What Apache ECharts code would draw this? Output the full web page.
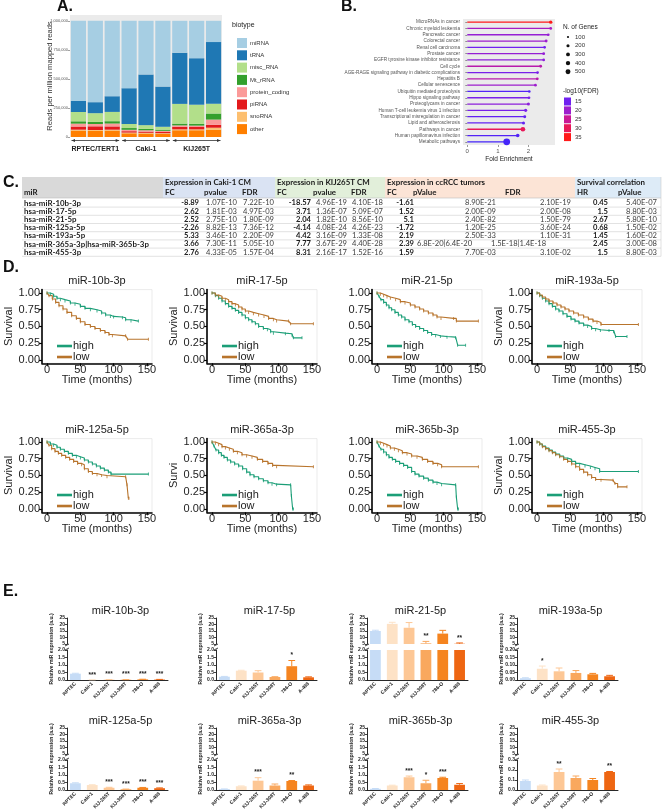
<!DOCTYPE html>
<html><head><meta charset="utf-8"><title>Figure</title>
<script src="https://cdn.jsdelivr.net/npm/echarts@6.0.0/dist/echarts.min.js"></script>
<style>html,body{margin:0;padding:0;background:#fff}#main{width:669px;height:812px}</style>
</head><body><div id="main"></div>
<script>
// ================= DATA =================
// ---- Panel A: small RNA biotypes (reads per million mapped reads)
const aSamples = ['RPTEC/TERT1 #1','RPTEC/TERT1 #2','RPTEC/TERT1 #3','Caki-1 #1','Caki-1 #2','Caki-1 #3','KIJ265T #1','KIJ265T #2','KIJ265T #3'];
const aGroups = ['RPTEC/TERT1','Caki-1','KIJ265T'];
const biotypes = ['miRNA','tRNA','misc_RNA','Mt_rRNA','protein_coding','piRNA','snoRNA','other'];
const rpm_miRNA          = [690000,700000,649000,580000,462000,566000,275000,322000,183000];
const rpm_tRNA           = [95000,95000,135000,308000,436000,346000,440000,400000,530000];
const rpm_misc_RNA       = [80000,75000,80000,35000,32000,25000,170000,165000,85000];
const rpm_Mt_rRNA        = [20000,18000,20000,15000,12000,10000,15000,15000,52000];
const rpm_protein_coding = [25000,20000,25000,12000,12000,10000,12000,12000,45000];
const rpm_piRNA          = [27000,32000,28000,12000,10000,10000,22000,20000,25000];
const rpm_snoRNA         = [8000,8000,8000,6000,6000,5000,8000,8000,18000];
const rpm_other          = [55000,52000,55000,32000,30000,28000,58000,58000,62000];
const aTicks = [0,250000,500000,750000,1000000];

// ---- Panel B: KEGG enrichment
const keggTerms = ['MicroRNAs in cancer','Chronic myeloid leukemia','Pancreatic cancer','Colorectal cancer','Renal cell carcinoma','Prostate cancer','EGFR tyrosine kinase inhibitor resistance','Cell cycle','AGE-RAGE signaling pathway in diabetic complications','Hepatitis B','Cellular senescence','Ubiquitin mediated proteolysis','Hippo signaling pathway','Proteoglycans in cancer','Human T-cell leukemia virus 1 infection','Transcriptional misregulation in cancer','Lipid and atherosclerosis','Pathways in cancer','Human papillomavirus infection','Metabolic pathways'];
const foldEnrichment = [2.73,2.73,2.65,2.58,2.53,2.50,2.50,2.40,2.30,2.29,2.23,2.03,2.02,2.00,1.91,1.88,1.84,1.82,1.65,1.29];
const nGenes = [240,160,150,170,150,160,150,170,150,170,160,140,150,190,200,180,190,450,270,950];
const negLog10FDR = [35,21,19,20,15,19,18,23,16,23,20,13,16,18,16,14,14,30,13,12];
const geneLegend = [100,200,300,400,500];
const fdrLegend = [15,20,25,30,35];

// ---- Panel C: table
const tGroups = ['Expression in Caki-1 CM','Expression in KIJ265T CM','Expression in ccRCC tumors','Survival correlation'];
const tSubHeads = ['miR','FC','pvalue','FDR','FC','pvalue','FDR','FC','pValue','FDR','HR','pValue'];
const tMiR   = ['hsa-miR-10b-3p','hsa-miR-17-5p','hsa-miR-21-5p','hsa-miR-125a-5p','hsa-miR-193a-5p','hsa-miR-365a-3p|hsa-miR-365b-3p','hsa-miR-455-3p'];
const cakiFC  = ['-8.89','2.62','2.52','-2.26','5.33','3.66','2.76'];
const cakiP   = ['1.07E-10','1.81E-03','2.75E-10','8.82E-13','3.46E-10','7.30E-11','4.33E-05'];
const cakiFDR = ['7.22E-10','4.97E-03','1.80E-09','7.36E-12','2.20E-09','5.05E-10','1.57E-04'];
const kijFC   = ['-18.57','3.71','2.04','-4.14','4.42','7.77','8.31'];
const kijP    = ['4.96E-19','1.36E-07','1.82E-10','4.08E-24','3.16E-09','3.67E-29','2.16E-17'];
const kijFDR  = ['4.10E-18','5.09E-07','8.56E-10','4.26E-23','1.33E-08','4.40E-28','1.52E-16'];
const tumFC   = ['-1.61','1.52','5.1','-1.72','2.19','2.39','1.59'];
const tumP    = ['8.90E-21','2.00E-09','2.40E-82','1.20E-25','2.50E-33','6.8E-20|6.4E-20','7.70E-03'];
const tumFDR  = ['2.10E-19','2.00E-08','1.50E-79','3.60E-24','1.10E-31','1.5E-18|1.4E-18','3.10E-02'];
const survHR  = ['0.45','1.5','2.67','0.68','1.45','2.45','1.5'];
const survP   = ['5.40E-07','8.80E-03','5.80E-10','1.50E-02','1.60E-02','3.00E-08','8.80E-03'];

// ---- Panel D: Kaplan-Meier curves [months, survival]
const kmTitles = ['miR-10b-3p','miR-17-5p','miR-21-5p','miR-193a-5p','miR-125a-5p','miR-365a-3p','miR-365b-3p','miR-455-3p'];
const kmYNames = ['Survival','Survival','','Survival','Survival','Survi','','Survival'];
const kmXTicks = [0,50,100,150];
const kmYTicks = [0,0.25,0.5,0.75,1];
const km10bHigh = [[0,1],[5,0.98],[10,0.95],[15,0.92],[20,0.9],[27,0.88],[35,0.85],[42,0.83],[50,0.8],[57,0.77],[65,0.75],[75,0.73],[82,0.7],[88,0.67],[95,0.65],[100,0.64],[113,0.63],[118,0.6],[126,0.58],[137,0.58]];
const km10bLow  = [[0,1],[3,0.96],[8,0.91],[13,0.86],[18,0.81],[24,0.76],[30,0.71],[37,0.66],[44,0.62],[50,0.57],[57,0.53],[65,0.5],[72,0.47],[80,0.44],[87,0.41],[93,0.38],[98,0.36],[118,0.36],[121,0.31],[152,0.31]];
const km17High  = [[0,1],[5,0.96],[10,0.92],[15,0.88],[20,0.84],[25,0.8],[30,0.77],[35,0.74],[40,0.71],[45,0.67],[50,0.63],[55,0.6],[60,0.57],[65,0.54],[70,0.5],[77,0.47],[83,0.45],[88,0.42],[92,0.4],[110,0.39],[120,0.37],[122,0.33],[135,0.33]];
const km17Low   = [[0,1],[5,0.97],[10,0.95],[15,0.92],[20,0.9],[25,0.87],[30,0.84],[35,0.82],[40,0.79],[45,0.76],[50,0.73],[55,0.71],[62,0.69],[70,0.67],[78,0.65],[85,0.62],[92,0.6],[97,0.58],[115,0.58],[118,0.54],[152,0.54]];
const km21High  = [[0,1],[3,0.95],[6,0.9],[10,0.86],[14,0.82],[18,0.78],[22,0.75],[27,0.71],[32,0.67],[37,0.64],[42,0.6],[48,0.57],[53,0.53],[58,0.5],[64,0.47],[70,0.44],[76,0.41],[82,0.38],[88,0.36],[95,0.35],[105,0.34],[118,0.33],[121,0.22],[133,0.22]];
const km21Low   = [[0,1],[5,0.98],[10,0.96],[15,0.94],[20,0.92],[28,0.9],[35,0.87],[42,0.85],[50,0.82],[57,0.79],[64,0.76],[70,0.73],[77,0.7],[84,0.67],[90,0.64],[96,0.62],[115,0.62],[119,0.58],[152,0.58]];
const km193aHigh= [[0,1],[4,0.96],[8,0.92],[13,0.88],[18,0.84],[23,0.8],[28,0.76],[33,0.73],[39,0.69],[45,0.65],[51,0.61],[57,0.58],[63,0.55],[70,0.52],[76,0.5],[82,0.47],[88,0.45],[95,0.44],[108,0.44],[115,0.42],[118,0.35],[135,0.35]];
const km193aLow = [[0,1],[4,0.97],[8,0.94],[13,0.91],[18,0.88],[24,0.85],[30,0.82],[36,0.79],[42,0.76],[48,0.73],[55,0.7],[62,0.67],[70,0.64],[77,0.61],[84,0.58],[90,0.56],[96,0.53],[152,0.53]];
const km125aHigh= [[0,1],[5,0.97],[10,0.95],[15,0.92],[20,0.89],[26,0.86],[32,0.83],[38,0.8],[44,0.78],[50,0.76],[56,0.73],[62,0.7],[68,0.67],[74,0.64],[80,0.61],[86,0.58],[92,0.55],[96,0.52],[152,0.52]];
const km125aLow = [[0,1],[3,0.95],[7,0.9],[12,0.86],[17,0.83],[22,0.8],[28,0.77],[34,0.74],[40,0.71],[46,0.68],[52,0.66],[56,0.6],[62,0.56],[68,0.53],[75,0.51],[82,0.5],[90,0.48],[118,0.48],[120,0.36],[122,0.16],[123,0.16]];
const km365aHigh= [[0,1],[3,0.94],[6,0.88],[10,0.84],[14,0.8],[18,0.77],[23,0.73],[28,0.7],[34,0.67],[40,0.64],[46,0.6],[52,0.55],[57,0.51],[63,0.48],[70,0.45],[77,0.42],[84,0.39],[90,0.37],[97,0.36],[118,0.36],[119,0.2],[121,0],[122,0]];
const km365aLow = [[0,1],[5,0.98],[10,0.96],[15,0.93],[20,0.91],[26,0.89],[32,0.86],[38,0.84],[45,0.81],[52,0.79],[60,0.77],[68,0.74],[76,0.71],[84,0.68],[91,0.65],[97,0.63],[152,0.63]];
const km365bHigh= [[0,1],[3,0.94],[6,0.89],[10,0.85],[14,0.81],[18,0.77],[23,0.74],[28,0.71],[34,0.68],[40,0.65],[46,0.62],[52,0.56],[57,0.52],[63,0.49],[70,0.46],[77,0.43],[84,0.4],[90,0.38],[97,0.36],[118,0.36],[119,0.18],[121,0],[122,0]];
const km365bLow = [[0,1],[5,0.98],[10,0.96],[15,0.94],[20,0.91],[26,0.89],[32,0.87],[38,0.84],[45,0.82],[52,0.79],[60,0.77],[68,0.74],[76,0.71],[84,0.68],[91,0.66],[97,0.63],[152,0.63]];
const km455High = [[0,1],[4,0.97],[8,0.94],[13,0.91],[18,0.88],[23,0.85],[28,0.82],[34,0.79],[40,0.76],[46,0.74],[52,0.71],[58,0.68],[64,0.66],[72,0.64],[80,0.62],[87,0.6],[94,0.56],[152,0.56]];
const km455Low  = [[0,1],[4,0.97],[8,0.93],[13,0.9],[18,0.87],[23,0.84],[28,0.81],[34,0.78],[40,0.74],[46,0.71],[52,0.67],[58,0.63],[64,0.59],[70,0.55],[76,0.51],[82,0.47],[88,0.44],[96,0.43],[114,0.43],[117,0.38],[121,0.33],[135,0.33]];
const kmHighSets = [km10bHigh,km17High,km21High,km193aHigh,km125aHigh,km365aHigh,km365bHigh,km455High];
const kmLowSets  = [km10bLow,km17Low,km21Low,km193aLow,km125aLow,km365aLow,km365bLow,km455Low];

// ---- Panel E: qPCR relative expression (mean, error, significance)
const eCells  = ['RPTEC','Caki-1','KIJ-265T','KIJ-308T','786-O','A-498'];
const eTitles = ['miR-10b-3p','miR-17-5p','miR-21-5p','miR-193a-5p','miR-125a-5p','miR-365a-3p','miR-365b-3p','miR-455-3p'];
const e10bMean = [0.42,0.01,0.02,0.02,0.04,0.03],   e10bErr = [0.03,0.005,0.005,0.005,0.01,0.01], e10bSig = ['','***','***','***','***','***'];
const e17Mean  = [0.22,0.62,0.5,0.2,0.92,0.18],     e17Err  = [0.02,0.03,0.12,0.02,0.38,0.03],     e17Sig  = ['','','','','*',''];
const e21Mean  = [15,20.5,17.5,5.5,13,5.2],         e21Err  = [0.6,1.2,4,1.5,2.5,0.6],             e21Sig  = ['','','','**','','**'];
const e193aMean= [0.012,0.075,0.058,0.047,0.038,0.025], e193aErr=[0.003,0.018,0.022,0.016,0.006,0.006], e193aSig=['','*','','','',''];
const e125aMean= [0.45,0.33,0.15,0.05,0.15,0.12],   e125aErr= [0.03,0.02,0.03,0.01,0.02,0.02],     e125aSig= ['','','***','***','***','***'];
const e365aMean= [0.06,0.25,0.62,0.3,0.6,0.3],      e365aErr= [0.01,0.02,0.2,0.1,0.03,0.04],       e365aSig= ['','','***','','**',''];
const e365bMean= [0.08,0.3,0.85,0.45,0.8,0.35],     e365bErr= [0.02,0.02,0.08,0.2,0.05,0.08],      e365bSig= ['','','***','*','***',''];
const e455Mean = [0.09,0.045,0.18,0.12,0.1,0.18],   e455Err = [0.01,0.005,0.03,0.02,0.015,0.005],  e455Sig = ['','','**','','','**'];
const eMeans = [e10bMean,e17Mean,e21Mean,e193aMean,e125aMean,e365aMean,e365bMean,e455Mean];
const eErrs  = [e10bErr,e17Err,e21Err,e193aErr,e125aErr,e365aErr,e365bErr,e455Err];
const eSigs  = [e10bSig,e17Sig,e21Sig,e193aSig,e125aSig,e365aSig,e365bSig,e455Sig];
const eLowMax  = [2,2,2,0.2,2,2,2,0.3];
const eLowStep = [0.5,0.5,0.5,0.05,0.5,0.5,0.5,0.1];
const eLowDig  = [1,1,1,2,1,1,1,1];
const eUpMin = 5, eUpMax = 25, eUpStep = 5;

// ================= BUILD =================
const FONT = '"Liberation Sans", Arial, Helvetica, sans-serif';
const TFONT = 'Lato, "Open Sans", "Liberation Sans", sans-serif';
const grid = [], xAxis = [], yAxis = [], series = [], legend = [], gfx = [];
function G(o){ grid.push(Object.assign({outerBoundsMode:'none', containLabel:false, show:false}, o)); return grid.length-1; }
function txt(x,y,t,o){ gfx.push({type:'text', x:x, y:y, silent:true, style:Object.assign({text:t, fontFamily:FONT, fontSize:7, fill:'#222', align:'left', verticalAlign:'middle'}, o||{})}); }
function rect(x,y,w,h,fill){ gfx.push({type:'rect', silent:true, shape:{x:x,y:y,width:w,height:h}, style:{fill:fill}}); }
function seg(x1,y1,x2,y2,stroke,lw){ gfx.push({type:'line', silent:true, shape:{x1:x1,y1:y1,x2:x2,y2:y2}, style:{stroke:stroke, lineWidth:lw||0.6}}); }

// Panel letters
txt(57,7,'A.',{fontSize:16,fontWeight:'bold',fill:'#111'});
txt(341,7,'B.',{fontSize:16,fontWeight:'bold',fill:'#111'});
txt(3,183,'C.',{fontSize:16,fontWeight:'bold',fill:'#111'});
txt(3,268,'D.',{fontSize:16,fontWeight:'bold',fill:'#111'});
txt(3,592,'E.',{fontSize:16,fontWeight:'bold',fill:'#111'});

// ---------- Panel A ----------
const aColors = {miRNA:'#a6cee3', tRNA:'#1f78b4', misc_RNA:'#b2df8a', Mt_rRNA:'#33a02c', protein_coding:'#fb9a99', piRNA:'#e31a1c', snoRNA:'#fdbf6f', other:'#ff7f00'};
const aData = {miRNA:rpm_miRNA, tRNA:rpm_tRNA, misc_RNA:rpm_misc_RNA, Mt_rRNA:rpm_Mt_rRNA, protein_coding:rpm_protein_coding, piRNA:rpm_piRNA, snoRNA:rpm_snoRNA, other:rpm_other};
const gA = G({left:70, top:15, width:152, height:122, show:true, backgroundColor:'#ebebeb', borderWidth:0});
const xA = xAxis.length;
xAxis.push({gridIndex:gA, type:'category', data:aSamples, axisLine:{show:false}, axisTick:{show:false}, axisLabel:{show:false}, splitLine:{show:false}});
const yA = yAxis.length;
yAxis.push({gridIndex:gA, type:'value', min:0, max:1050000, axisLine:{show:false},
  axisTick:{show:true, customValues:aTicks, length:2, lineStyle:{color:'#444', width:0.5}},
  axisLabel:{customValues:aTicks, fontSize:4, color:'#555', margin:2, fontFamily:FONT},
  splitLine:{show:false}, name:'Reads per million mapped reads', nameLocation:'middle', nameGap:16, nameMoveOverlap:false,
  nameTextStyle:{fontSize:7.6, color:'#333', fontFamily:FONT}});
['other','snoRNA','piRNA','protein_coding','Mt_rRNA','misc_RNA','tRNA','miRNA'].forEach(function(b){
  series.push({type:'bar', name:b, xAxisIndex:xA, yAxisIndex:yA, stack:'bio', data:aData[b], barCategoryGap:'10%', itemStyle:{color:aColors[b]}, silent:true});
});
legend.push({left:232, top:33, orient:'vertical', data:biotypes, icon:'rect', itemWidth:10, itemHeight:10, itemGap:2.3, selectedMode:false,
  textStyle:{fontSize:6, color:'#333', fontFamily:FONT, padding:[0,0,0,-2]}});
txt(232,25,'biotype',{fontSize:7,fill:'#222'});

// ---------- Panel B ----------
const fdrStops = [[10,[40,40,255]],[15,[112,32,240]],[20,[158,30,205]],[25,[202,24,150]],[30,[232,24,88]],[35,[255,26,26]]];
function fdrColor(v){
  for (let i=0;i<fdrStops.length-1;i++){
    const a=fdrStops[i], b=fdrStops[i+1];
    if (v<=b[0] || i===fdrStops.length-2){
      const t=Math.max(0,Math.min(1,(v-a[0])/(b[0]-a[0])));
      return 'rgb('+a[1].map(function(c,j){return Math.round(c+(b[1][j]-c)*t);}).join(',')+')';
    }
  }
}
function geneSize(g){ return 2.2*Math.sqrt(g/100); }
const gB = G({left:463, top:19, width:92, height:126, show:true, backgroundColor:'#ebebeb', borderWidth:0});
const xB = xAxis.length;
xAxis.push({gridIndex:gB, type:'value', min:-0.14, max:2.87, axisLine:{show:false},
  axisTick:{show:true, customValues:[0,1,2], length:2, lineStyle:{color:'#555',width:0.6}},
  axisLabel:{customValues:[0,1,2], fontSize:6, color:'#555', margin:3, fontFamily:FONT},
  splitLine:{show:false}, name:'Fold Enrichment', nameLocation:'middle', nameGap:11, nameMoveOverlap:false,
  nameTextStyle:{fontSize:6.5, color:'#222', fontFamily:FONT}});
const yB = yAxis.length;
yAxis.push({gridIndex:gB, type:'category', data:keggTerms, inverse:true, axisLine:{show:false},
  axisTick:{show:true, length:2, alignWithLabel:true, lineStyle:{color:'#555',width:0.6}},
  axisLabel:{fontSize:4.7, color:'#555', margin:3, fontFamily:FONT, interval:0}, splitLine:{show:false}});
series.push({type:'bar', xAxisIndex:xB, yAxisIndex:yB, barWidth:1.3, silent:true,
  data: foldEnrichment.map(function(v,i){ return {value:v, itemStyle:{color:fdrColor(negLog10FDR[i])}}; })});
series.push({type:'scatter', xAxisIndex:xB, yAxisIndex:yB, silent:true, z:4,
  data: foldEnrichment.map(function(v,i){ return {value:[v, keggTerms[i]], symbolSize:geneSize(nGenes[i]), itemStyle:{color:fdrColor(negLog10FDR[i]), opacity:1}}; })});
txt(563,27,'N. of Genes',{fontSize:6.5,fill:'#222'});
geneLegend.forEach(function(g,i){
  const cy = 37 + i*8.7;
  gfx.push({type:'circle', silent:true, shape:{cx:568, cy:cy, r:geneSize(g)/2}, style:{fill:'#111'}});
  txt(575,cy,String(g),{fontSize:6,fill:'#333'});
});
txt(563,91,'-log10(FDR)',{fontSize:6.5,fill:'#222'});
fdrLegend.forEach(function(v,i){
  const cy = 101.5 + i*8.9;
  rect(564, cy-4, 7, 8, fdrColor(v));
  txt(575,cy,String(v),{fontSize:6,fill:'#333'});
});

// ---------- Panel C (table) ----------
const tTop = 177, tHead1 = 182.5, tHead2 = 192.5, tHeadBot = 198, tRow0 = 203, tRowH = 8.2, tLeft = 22, tRight = 661;
const TFS = 7.9;
const tBands = [[22,141,'#d9d9d9'],[163,112,'#dae3f3'],[275,110,'#e2efda'],[385,190,'#fce4d6'],[575,86,'#ddebf7']];
tBands.forEach(function(b){ rect(b[0], tTop, b[1], tHeadBot-tTop, b[2]); });
const tGroupX = [165,277,387,577];
tGroups.forEach(function(t,i){ txt(tGroupX[i], tHead1, t, {fontFamily:TFONT, fontSize:TFS, fontWeight:'bold', fill:'#1a1a1a'}); });
const tSubX = [24,165,204,242,277,313,351,387,413,505,577,618];
tSubHeads.forEach(function(t,i){ txt(tSubX[i], tHead2, t, {fontFamily:TFONT, fontSize:TFS, fontWeight:'bold', fill:'#1a1a1a'}); });
const tCols = [[199,cakiFC,true],[237,cakiP,false],[274,cakiFDR,false],[311,kijFC,true],[347,kijP,false],[383,kijFDR,false],
               [414,tumFC,true],[496,tumP,false,417],[571,tumFDR,false,491],[608,survHR,true],[657,survP,false]];
tMiR.forEach(function(m,r){
  const y = tRow0 + r*tRowH;
  seg(tLeft, y + tRowH/2, tRight, y + tRowH/2, '#cfcfcf', 0.6);
  txt(24, y, m, {fontFamily:TFONT, fontSize:TFS, fontWeight:'bold', fill:'#1a1a1a'});
  tCols.forEach(function(c){
    const v = c[1][r];
    const split = v.indexOf('|')>=0 && c[3];
    txt(split ? c[3] : c[0], y, v, {fontFamily:TFONT, fontSize:TFS-0.3, fontWeight:c[2]?'bold':'normal', fill:c[2]?'#1a1a1a':'#404040', align: split?'left':'right'});
  });
});
seg(tLeft, tHeadBot, tRight, tHeadBot, '#bdbdbd', 0.6);
seg(tRight, tTop, tRight, tRow0+6*tRowH+tRowH/2, '#cfcfcf', 0.6);

// ---------- Panel D (Kaplan-Meier) ----------
const KM_HIGH = '#1b9e77', KM_LOW = '#b8742c';
const kmLeft = [42,207,372,532], kmW = 110, kmTop = [289.6,438.6], kmH = 73.7;
kmTitles.forEach(function(t,k){
  const col = k%4, row = Math.floor(k/4);
  const L = kmLeft[col], T = kmTop[row];
  const g = G({left:L, top:T, width:kmW, height:kmH, show:true, borderColor:'#dddddd', borderWidth:0.6, backgroundColor:'transparent'});
  const xi = xAxis.length;
  xAxis.push({gridIndex:g, type:'value', min:-7.5, max:157.5,
    axisLine:{show:true, onZero:false, lineStyle:{color:'#000', width:1.6}},
    axisTick:{show:true, customValues:kmXTicks, length:3, lineStyle:{color:'#000', width:1.2}},
    axisLabel:{customValues:kmXTicks, fontSize:11, color:'#222', margin:1, fontFamily:FONT},
    splitLine:{show:false}, name:'Time (months)', nameLocation:'middle', nameGap:11, nameMoveOverlap:false,
    nameTextStyle:{fontSize:11, color:'#222', fontFamily:FONT}});
  const yi = yAxis.length;
  yAxis.push({gridIndex:g, type:'value', min:-0.05, max:1.05,
    axisLine:{show:true, onZero:false, lineStyle:{color:'#000', width:1.6}},
    axisTick:{show:true, customValues:kmYTicks, length:3, lineStyle:{color:'#000', width:1.2}},
    axisLabel:{customValues:kmYTicks, formatter:function(v){return Number(v).toFixed(2);}, fontSize:11, color:'#222', margin:2, fontFamily:FONT},
    splitLine:{show:false}, name:kmYNames[k], nameLocation:'middle', nameGap:28, nameMoveOverlap:false,
    nameTextStyle:{fontSize:11, color:'#222', fontFamily:FONT}});
  // step curves; the small vertical ticks mark the step points (censoring-like marks)
  series.push({type:'line', name:'high', xAxisIndex:xi, yAxisIndex:yi, data:kmHighSets[k], step:'end', showSymbol:true, symbol:'rect', symbolSize:[0.8,3], silent:true,
    lineStyle:{color:KM_HIGH, width:1.1}, itemStyle:{color:KM_HIGH}});
  series.push({type:'line', name:'low', xAxisIndex:xi, yAxisIndex:yi, data:kmLowSets[k], step:'end', showSymbol:true, symbol:'rect', symbolSize:[0.8,3], silent:true,
    lineStyle:{color:KM_LOW, width:1.1}, itemStyle:{color:KM_LOW}});
  legend.push({left:L+10, top:T + (1.05-0.29)*kmH/1.1 - 5, orient:'vertical', data:['high','low'], icon:'rect', itemWidth:15, itemHeight:2.6, itemGap:0,
    selectedMode:false, textStyle:{fontSize:11, color:'#222', fontFamily:FONT, lineHeight:10, padding:[0,0,0,-4]}});
  txt(L + kmW/2, T-8.5, t, {fontSize:11, align:'center', fill:'#222'});
});

// ---------- Panel E (qPCR bars) ----------
const eColors = ['#c6dcf6','#fde2c6','#fdc795','#f9a85e','#f5841f','#ee6612'];
const eLeft = [67,216,367,517], eW = 101, eUpTop = [618,728], eUpH = 26, eLowTop = [650,760], eLowH = 30;
function errRenderer(k){
  return function(params, api){
    const ci = api.value(0), m = api.value(1), er = api.value(2);
    const base = api.coord([ci, m]);
    const top = api.coord([ci, m + er]);
    const bw = api.size([1,0])[0]*0.2;
    const col = eColors[ci];
    const ch = [];
    if (er > 0){
      ch.push({type:'line', shape:{x1:top[0], y1:base[1], x2:top[0], y2:top[1]}, style:{stroke:col, lineWidth:1}});
      ch.push({type:'line', shape:{x1:top[0]-bw, y1:top[1], x2:top[0]+bw, y2:top[1]}, style:{stroke:col, lineWidth:1}});
    }
    const s = eSigs[k][ci];
    if (s) ch.push({type:'text', x:top[0], y:top[1]-1.5, style:{text:s, fontSize:6.5, fontWeight:'bold', fill:'#222', align:'center', verticalAlign:'bottom', fontFamily:FONT}});
    return {type:'group', children:ch};
  };
}
eTitles.forEach(function(t,k){
  const col = k%4, row = Math.floor(k/4);
  const L = eLeft[col];
  const gu = G({left:L, top:eUpTop[row], width:eW, height:eUpH});
  const gl = G({left:L, top:eLowTop[row], width:eW, height:eLowH});
  const axStyle = {show:true, onZero:false, lineStyle:{color:'#111', width:0.9}};
  const tickStyle = {show:true, length:2, lineStyle:{color:'#111', width:0.8}};
  const lblStyle = {fontSize:5, fontWeight:'bold', color:'#222', margin:2, fontFamily:FONT};
  const xu = xAxis.length;
  xAxis.push({gridIndex:gu, type:'category', data:eCells, show:false});
  const yu = yAxis.length;
  yAxis.push({gridIndex:gu, type:'value', min:eUpMin, max:eUpMax, interval:eUpStep, axisLine:axStyle, axisTick:tickStyle, axisLabel:lblStyle, splitLine:{show:false}});
  const xl = xAxis.length;
  xAxis.push({gridIndex:gl, type:'category', data:eCells, axisLine:axStyle, axisTick:{show:false},
    axisLabel:{fontSize:5, fontWeight:'bold', color:'#222', margin:3, rotate:45, interval:0, fontFamily:FONT}});
  const yl = yAxis.length;
  const dig = eLowDig[k];
  yAxis.push({gridIndex:gl, type:'value', min:0, max:eLowMax[k], interval:eLowStep[k], axisLine:axStyle, axisTick:tickStyle,
    axisLabel:Object.assign({}, lblStyle, {formatter:function(v){return Number(v).toFixed(dig);}}), splitLine:{show:false}});
  const mean = eMeans[k], err = eErrs[k], mx = eLowMax[k];
  series.push({type:'bar', xAxisIndex:xl, yAxisIndex:yl, barWidth:'64%', clip:true, silent:true,
    data: mean.map(function(v,i){ return {value:v, itemStyle:{color:eColors[i]}}; })});
  series.push({type:'bar', xAxisIndex:xu, yAxisIndex:yu, barWidth:'64%', clip:true, silent:true,
    data: mean.map(function(v,i){ return {value: v>eUpMin ? v : '-', itemStyle:{color:eColors[i]}}; })});
  series.push({type:'custom', xAxisIndex:xl, yAxisIndex:yl, silent:true, z:5, renderItem:errRenderer(k),
    data: mean.map(function(v,i){ return v<=mx ? [i, v, err[i]] : null; }).filter(function(d){return d;})});
  series.push({type:'custom', xAxisIndex:xu, yAxisIndex:yu, silent:true, z:5, renderItem:errRenderer(k),
    data: mean.map(function(v,i){ return v>mx ? [i, v, err[i]] : null; }).filter(function(d){return d;})});
  txt(L + eW/2 + 3, eUpTop[row]-7, t, {fontSize:11, align:'center', fill:'#222'});
  gfx.push({type:'text', silent:true, x:L-15, y:(eUpTop[row]+eLowTop[row]+eLowH)/2, rotation:Math.PI/2,
    style:{text:'Relative miR expression (a.u.)', fontSize:5, fontWeight:'bold', fill:'#222', align:'center', verticalAlign:'middle', fontFamily:FONT}});
  // axis-break marks between the two y segments
  const yb1 = eUpTop[row]+eUpH, yb2 = eLowTop[row];
  seg(L-2, yb1+2, L+2, yb1, '#111', 0.8);
  seg(L-2, yb2, L+2, yb2-2, '#111', 0.8);
});

// ================= RENDER =================
const chart = echarts.init(document.getElementById('main'), null, {renderer:'canvas'});
chart.setOption({animation:false, backgroundColor:'#ffffff', textStyle:{fontFamily:FONT},
  grid:grid, xAxis:xAxis, yAxis:yAxis, series:series, legend:legend, tooltip:{show:false}});
// group brackets below panel A, placed from the category axis
const extra = [];
aGroups.forEach(function(g,gi){
  const c0 = chart.convertToPixel({xAxisIndex:xA}, aSamples[gi*3]);
  const c2 = chart.convertToPixel({xAxisIndex:xA}, aSamples[gi*3+2]);
  const half = 152/9/2;
  const x1 = c0-half+1.5, x2 = c2+half-1.5, y = 140.5;
  extra.push({type:'line', silent:true, shape:{x1:x1,y1:y,x2:x2,y2:y}, style:{stroke:'#333', lineWidth:0.8}});
  extra.push({type:'polygon', silent:true, shape:{points:[[x1,y],[x1+3.5,y-1.6],[x1+3.5,y+1.6]]}, style:{fill:'#333'}});
  extra.push({type:'polygon', silent:true, shape:{points:[[x2,y],[x2-3.5,y-1.6],[x2-3.5,y+1.6]]}, style:{fill:'#333'}});
  extra.push({type:'text', silent:true, x:(x1+x2)/2, y:149, style:{text:g, fontSize:7, fontWeight:'bold', fill:'#222', align:'center', verticalAlign:'middle', fontFamily:FONT}});
});
chart.setOption({graphic:{elements:gfx.concat(extra)}});
</script></body></html>
